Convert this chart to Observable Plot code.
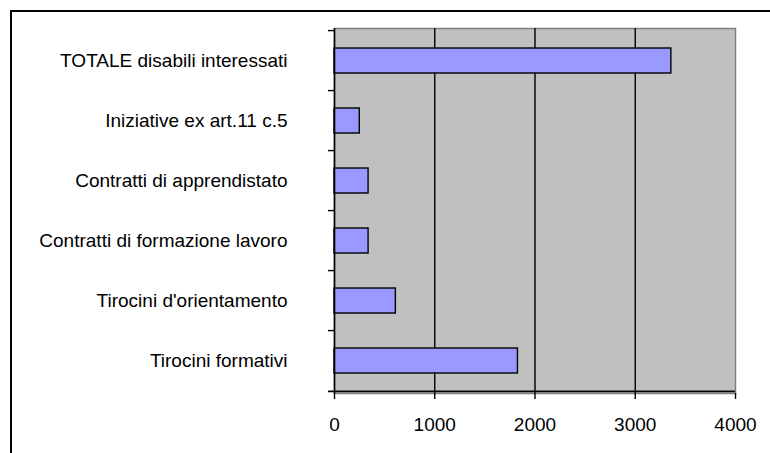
<!DOCTYPE html>
<html>
<head>
<meta charset="utf-8">
<script src="https://cdn.jsdelivr.net/npm/d3@7"></script>
<script src="https://cdn.jsdelivr.net/npm/@observablehq/plot@0.6"></script>
<style>
  html, body { margin: 0; padding: 0; background: #fff; overflow: hidden; }
  #wrap { position: relative; width: 770px; height: 453px; }
  #border { position: absolute; left: 10px; top: 10px; width: 820px; height: 520px; border: 2px solid #000; pointer-events: none; }
</style>
</head>
<body>
<div id="wrap"><div id="border"></div></div>
<script>
const categories = [
  "TOTALE disabili interessati",
  "Iniziative ex art.11 c.5",
  "Contratti di apprendistato",
  "Contratti di formazione lavoro",
  "Tirocini d'orientamento",
  "Tirocini formativi"
];
const values = [3360, 252, 340, 340, 612, 1830];
const xTicks = [0, 1000, 2000, 3000, 4000];
const gridTicks = [1000, 2000, 3000];

const data = categories.map((c, i) => ({category: c, value: values[i]}));

const W = 770, H = 453, mt = 28, mb = 60, ml = 334, mr = 35;
const step = (H - mt - mb) / categories.length;
const gap = 0.58;

const chart = Plot.plot({
  width: W,
  height: H,
  marginTop: mt,
  marginBottom: mb,
  marginLeft: ml,
  marginRight: mr,
  style: {fontFamily: "'Liberation Sans', Arial, sans-serif", fontSize: "19px", color: "#000", background: "transparent"},
  x: {domain: [0, 4000], label: null},
  y: {domain: categories, paddingInner: gap, paddingOuter: gap / 2, label: null},
  marks: [
    Plot.frame({fill: "#c0c0c0", stroke: "#808080", strokeWidth: 1.5}),
    Plot.ruleX(gridTicks, {stroke: "#000", strokeWidth: 1.4}),
    Plot.barX(data, {x: "value", y: "category", fill: "#9999ff", stroke: "#000", strokeWidth: 1.4}),
    Plot.ruleX([0], {stroke: "#000", strokeWidth: 1.6}),
    Plot.ruleY(categories, {y: d => d, x1: 0, x2: 0, insetLeft: -6, dy: -step / 2, stroke: "#000", strokeWidth: 1.4}),
    Plot.ruleY(categories.slice(-1), {y: d => d, x1: 0, x2: 4000, insetLeft: -6, dy: step / 2, stroke: "#000", strokeWidth: 1.6}),
    Plot.axisX({ticks: xTicks, tickSize: 6, tickPadding: 18, tickFormat: d3.format("d"), stroke: "#000", strokeWidth: 1.4, fill: "#000", label: null}),
    Plot.axisY({tickSize: 0, tickPadding: 47, fill: "#000", label: null})
  ]
});
document.getElementById("wrap").insertBefore(chart, document.getElementById("border"));
</script>
</body>
</html>
